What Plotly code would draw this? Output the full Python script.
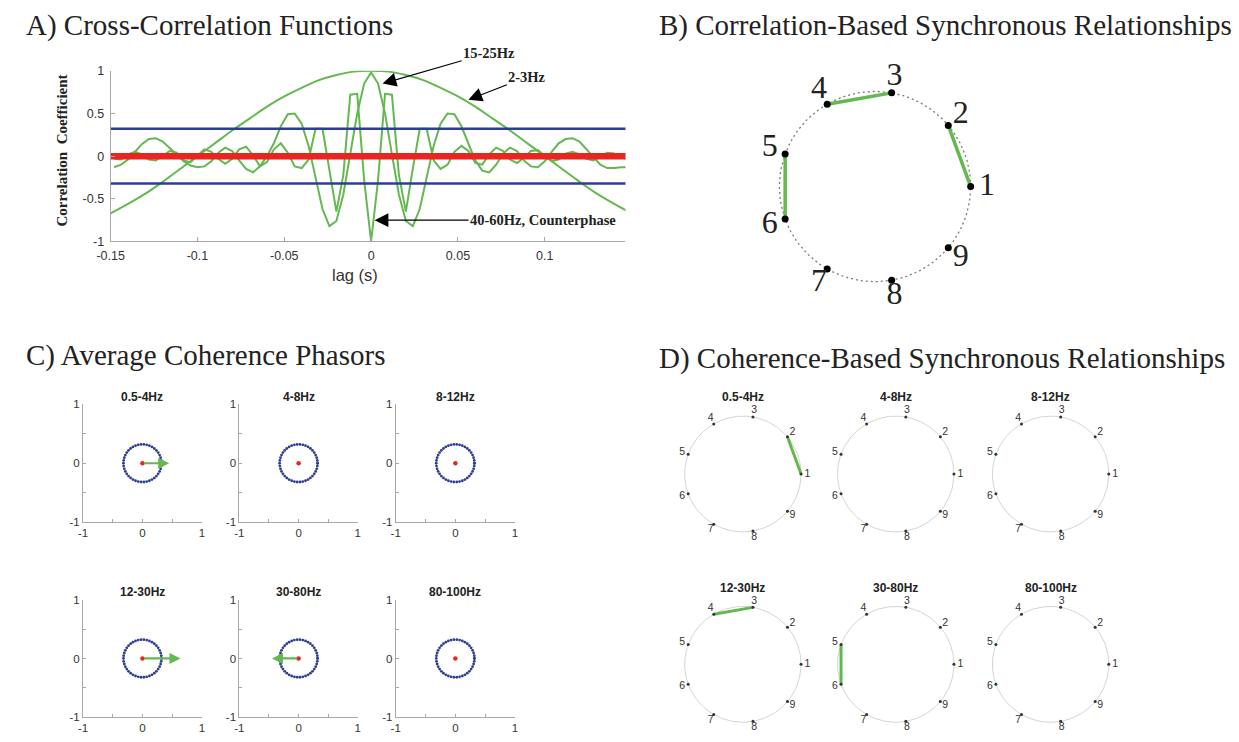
import numpy as np
import plotly.graph_objects as go

W, H = 1239, 742

# ---------------- Panel A data: cross-correlation functions ----------------
lag_coarse = np.round(np.arange(-0.15, 0.1501, 0.01), 3)
cc_2_3Hz = [-0.67, -0.56, -0.44, -0.30, -0.15, 0.00, 0.15, 0.30, 0.44, 0.58, 0.70,
            0.80, 0.89, 0.95, 0.99, 1.00, 0.99, 0.95, 0.89, 0.80, 0.70, 0.58, 0.44,
            0.30, 0.15, 0.00, -0.15, -0.30, -0.44, -0.56, -0.67]

lag_fine = np.round(np.arange(-0.148, 0.1481, 0.004), 3)
cc_15_25Hz = [-0.13, -0.10, -0.04, 0.05, 0.14, 0.20, 0.21, 0.17, 0.10, 0.02, -0.06, -0.11,
              -0.13, -0.12, -0.06, 0.04, 0.10, 0.06, -0.05, -0.15, -0.19, -0.12, 0.00, 0.15,
              0.35, 0.49, 0.50, 0.38, 0.12, -0.25, -0.62, -0.82, -0.76, -0.45, 0.02, 0.50, 0.85,
              0.98,
              0.85, 0.50, 0.02, -0.45, -0.76, -0.82, -0.62, -0.25, 0.12, 0.38, 0.50, 0.49,
              0.35, 0.15, -0.05, -0.17, -0.19, -0.10, 0.03, 0.10, 0.06, -0.05, -0.12, -0.13,
              -0.06, 0.05, 0.15, 0.20, 0.21, 0.17, 0.08, -0.02, -0.10, -0.14, -0.14, -0.13, -0.13]
cc_40_60Hz = [-0.03, -0.04, 0.02, 0.05, 0.02, -0.04, -0.05, 0.00, 0.06, 0.04, -0.05, -0.07,
              0.01, 0.08, 0.05, -0.03, -0.09, -0.03, 0.08, 0.11, 0.01, -0.12, -0.07, 0.08,
              0.15, 0.04, -0.12, -0.14, -0.04, 0.32, 0.32, -0.15, -0.65, -0.22, 0.72, 0.73, -0.28,
              -1.00,
              -0.28, 0.73, 0.72, -0.22, -0.65, -0.15, 0.32, 0.32, -0.05, -0.15, -0.10, 0.05,
              0.12, 0.06, -0.08, -0.10, 0.02, 0.10, 0.06, -0.04, -0.08, -0.02, 0.06, 0.07,
              0.00, -0.06, -0.04, 0.03, 0.05, 0.02, -0.03, -0.05, 0.00, 0.04, 0.03, -0.02, -0.03]
noise_lag = [-0.15, 0.15]
noise_cc = [0.0, 0.0]
sig_threshold = 0.32
a_xticks = [-0.15, -0.1, -0.05, 0, 0.05, 0.1]
a_xticktext = ['-0.15', '-0.1', '-0.05', '0', '0.05', '0.1']
a_yticks = [-1, -0.5, 0, 0.5, 1]
a_yticktext = ['-1', '-0.5', '0', '0.5', '1']

# ---------------- Panel B / D: node layout ----------------
node_labels = ['1', '2', '3', '4', '5', '6', '7', '8', '9']
node_angles_deg = [0, 40, 80, 120, 160, 200, 240, 280, 320]
corr_edges = [(1, 2), (3, 4), (5, 6)]

# ---------------- Panel C: coherence phasors ----------------
bands = ['0.5-4Hz', '4-8Hz', '8-12Hz', '12-30Hz', '30-80Hz', '80-100Hz']
phasor_re = [0.45, 0.0, 0.0, 0.64, -0.45, 0.0]
phasor_im = [0.0, 0.0, 0.0, 0.0, 0.0, 0.0]
coh_radius = 0.32

# ---------------- Panel D: coherence-based edges ----------------
coh_edges = [[(1, 2)], [], [], [(3, 4)], [(5, 6)], []]

GREEN = '#63b84f'
BLUE = '#2c3d94'
RED = '#e8251f'
AXC = '#a8a8a8'
TXT = '#333333'
SANS = 'Liberation Sans, Arial, sans-serif'
SERIF = 'Liberation Serif, Times New Roman, serif'
TITLE_SIZE = 29


def dom_x(x0, x1):
    return [max(0.0, x0 / W), min(1.0, x1 / W)]


def dom_y(y0, y1):
    return [max(0.0, 1 - y1 / H), min(1.0, 1 - y0 / H)]


def paper_text(text, x, y, size, family, xanchor='center', angle=0, color='#222'):
    return dict(text=text, x=x / W, y=1 - y / H, xref='paper', yref='paper',
                xanchor=xanchor, yanchor='middle', showarrow=False, textangle=angle,
                font=dict(family=family, size=size, color=color))


fig = go.Figure()
layout = dict(width=W, height=H, margin=dict(l=0, r=0, t=0, b=0),
              paper_bgcolor='white', plot_bgcolor='white', showlegend=False)
annotations = []

# ---------------- Panel A ----------------
fig.add_trace(go.Scatter(x=lag_coarse, y=cc_2_3Hz, mode='lines', line=dict(color=GREEN, width=2, shape='spline'),
                         xaxis='x', yaxis='y', hoverinfo='skip'))
for yv in (cc_15_25Hz, cc_40_60Hz):
    fig.add_trace(go.Scatter(x=lag_fine, y=yv, mode='lines', line=dict(color=GREEN, width=2),
                             xaxis='x', yaxis='y', hoverinfo='skip'))
for s in (1, -1):
    fig.add_trace(go.Scatter(x=noise_lag, y=[s * sig_threshold] * 2, mode='lines',
                             line=dict(color=BLUE, width=2.5), xaxis='x', yaxis='y', hoverinfo='skip'))
fig.add_trace(go.Scatter(x=noise_lag, y=noise_cc, mode='lines', line=dict(color=RED, width=6.5),
                         xaxis='x', yaxis='y', hoverinfo='skip'))

axis_common = dict(showline=True, linecolor=AXC, linewidth=1, ticks='inside', ticklen=4,
                   tickcolor=AXC, showgrid=False, zeroline=False,
                   tickfont=dict(family=SANS, size=12.5, color=TXT))
layout['xaxis'] = dict(axis_common, domain=dom_x(98, 620), range=[-0.15, 0.1465], anchor='y',
                       tickvals=a_xticks, ticktext=a_xticktext, ticklabelstandoff=3)
layout['yaxis'] = dict(axis_common, domain=dom_y(65, 239), range=[-1, 1], anchor='x',
                       tickvals=a_yticks, ticktext=a_yticktext, ticklabelstandoff=3)

annotations.append(paper_text('A) Cross-Correlation Functions', 10, 19, TITLE_SIZE, SERIF, xanchor='left'))
annotations.append(paper_text('<b>Correlation  Coefficient</b>', 49, 146, 15, SERIF, angle=-90))
annotations.append(paper_text('lag (s)', 346, 273, 16.5, SANS, color=TXT))
arrow_notes = [('15-25Hz', 0.0066, 0.85, 0.068, 1.21),
               ('2-3Hz', 0.056, 0.66, 0.090, 0.93),
               ('40-60Hz, Counterphase', 0.002, -0.75, 0.099, -0.75)]
for txt, hx, hy, tx, ty in arrow_notes:
    annotations.append(dict(text='<b>' + txt + '</b>', x=hx, y=hy, ax=tx, ay=ty, xref='x', yref='y',
                            axref='x', ayref='y', showarrow=True, arrowhead=2, arrowsize=2.3,
                            arrowwidth=1.2, arrowcolor='black',
                            font=dict(family=SERIF, size=14.5, color='#222')))

# ---------------- Panel B ----------------
theta = np.linspace(0, 2 * np.pi, 200)
ang = np.deg2rad(node_angles_deg)
nx, ny = np.cos(ang), np.sin(ang)
fig.add_trace(go.Scatter(x=np.cos(theta), y=np.sin(theta), mode='lines',
                         line=dict(color='#7a7a7a', width=1.3, dash='2px,3px'),
                         xaxis='x2', yaxis='y2', hoverinfo='skip'))
for a, b in corr_edges:
    fig.add_trace(go.Scatter(x=[nx[a - 1], nx[b - 1]], y=[ny[a - 1], ny[b - 1]], mode='lines',
                             line=dict(color=GREEN, width=3.5), xaxis='x2', yaxis='y2', hoverinfo='skip'))
fig.add_trace(go.Scatter(x=nx, y=ny, mode='markers', marker=dict(color='black', size=7),
                         xaxis='x2', yaxis='y2', hoverinfo='skip'))
fig.add_trace(go.Scatter(x=1.17 * nx, y=1.17 * ny, mode='text', text=node_labels, cliponaxis=False,
                         textfont=dict(family=SERIF, size=32, color='#222'),
                         xaxis='x2', yaxis='y2', hoverinfo='skip'))
hid = dict(visible=False, showgrid=False, zeroline=False)
layout['xaxis2'] = dict(hid, domain=dom_x(873 - 140.6, 873 + 140.6), range=[-1.45, 1.45], anchor='y2')
layout['yaxis2'] = dict(hid, domain=dom_y(183 - 140.6, 183 + 140.6), range=[-1.45, 1.45], anchor='x2')
annotations.append(paper_text('B) Correlation-Based Synchronous Relationships', 652, 19, TITLE_SIZE, SERIF,
                              xanchor='left'))

# ---------------- Panel C ----------------
c_cols = [(70, 190.5), (228.5, 348.6), (387, 508)]
c_rows = [(405, 525), (604, 724)]
annotations.append(paper_text('C) Average Coherence Phasors', 10, 355, TITLE_SIZE, SERIF, xanchor='left'))
small_axis = dict(showline=True, linecolor=AXC, linewidth=1, ticks='inside', ticklen=3,
                  tickcolor=AXC, showgrid=False, zeroline=False,
                  tickfont=dict(family=SANS, size=11.5, color=TXT),
                  tickvals=[-1, -0.5, 0, 0.5, 1], ticktext=['-1', '', '0', '', '1'])
for i, band in enumerate(bands):
    r, c = divmod(i, 3)
    n = 3 + i
    xa, ya = 'x%d' % n, 'y%d' % n
    x0, x1 = c_cols[c]
    y0, y1 = c_rows[r]
    layout['xaxis%d' % n] = dict(small_axis, domain=dom_x(x0, x1), range=[-1, 1], anchor=ya)
    layout['yaxis%d' % n] = dict(small_axis, domain=dom_y(y0, y1), range=[-1, 1], anchor=xa)
    tt = np.linspace(0, 2 * np.pi, 43)
    fig.add_trace(go.Scatter(x=coh_radius * np.cos(tt), y=coh_radius * np.sin(tt), mode='markers',
                             marker=dict(color=BLUE, size=2.8), xaxis=xa, yaxis=ya, hoverinfo='skip'))
    fig.add_trace(go.Scatter(x=[0], y=[0], mode='markers', marker=dict(color=RED, size=4.5),
                             xaxis=xa, yaxis=ya, hoverinfo='skip'))
    if abs(phasor_re[i]) + abs(phasor_im[i]) > 0:
        annotations.append(dict(text='', x=phasor_re[i], y=phasor_im[i], ax=0, ay=0, xref=xa, yref=ya,
                                axref=xa, ayref=ya, showarrow=True, arrowhead=2, arrowsize=1.0,
                                arrowwidth=2.2, arrowcolor=GREEN))
    annotations.append(paper_text('<b>' + band + '</b>', (x0 + x1) / 2, y0 - 8, 12, SANS))

# ---------------- Panel D ----------------
d_cx = [739, 894, 1051]
d_cy = [476, 670]
d_r = 59
d_lim = 1.2
annotations.append(paper_text('D) Coherence-Based Synchronous Relationships', 652, 358, TITLE_SIZE, SERIF,
                              xanchor='left'))
for i, band in enumerate(bands):
    r, c = divmod(i, 3)
    n = 9 + i
    xa, ya = 'x%d' % n, 'y%d' % n
    cx, cy = d_cx[c], d_cy[r]
    half = d_lim * d_r
    layout['xaxis%d' % n] = dict(hid, domain=dom_x(cx - half, cx + half), range=[-d_lim, d_lim], anchor=ya)
    layout['yaxis%d' % n] = dict(hid, domain=dom_y(cy - half, cy + half), range=[-d_lim, d_lim], anchor=xa)
    fig.add_trace(go.Scatter(x=np.cos(theta), y=np.sin(theta), mode='lines',
                             line=dict(color='#d4d4d4', width=1), xaxis=xa, yaxis=ya, hoverinfo='skip'))
    for a, b in coh_edges[i]:
        fig.add_trace(go.Scatter(x=[nx[a - 1], nx[b - 1]], y=[ny[a - 1], ny[b - 1]], mode='lines',
                                 line=dict(color=GREEN, width=3), xaxis=xa, yaxis=ya, hoverinfo='skip'))
    fig.add_trace(go.Scatter(x=nx, y=ny, mode='markers', marker=dict(color='#333', size=3),
                             xaxis=xa, yaxis=ya, hoverinfo='skip'))
    fig.add_trace(go.Scatter(x=1.11 * nx, y=1.11 * ny, mode='text', text=node_labels, cliponaxis=False,
                             textfont=dict(family=SANS, size=10.5, color='#333'),
                             xaxis=xa, yaxis=ya, hoverinfo='skip'))
    annotations.append(paper_text('<b>' + band + '</b>', cx, cy - 78, 12, SANS))

layout['annotations'] = annotations
fig.update_layout(**layout)
fig.write_html('out.html')
